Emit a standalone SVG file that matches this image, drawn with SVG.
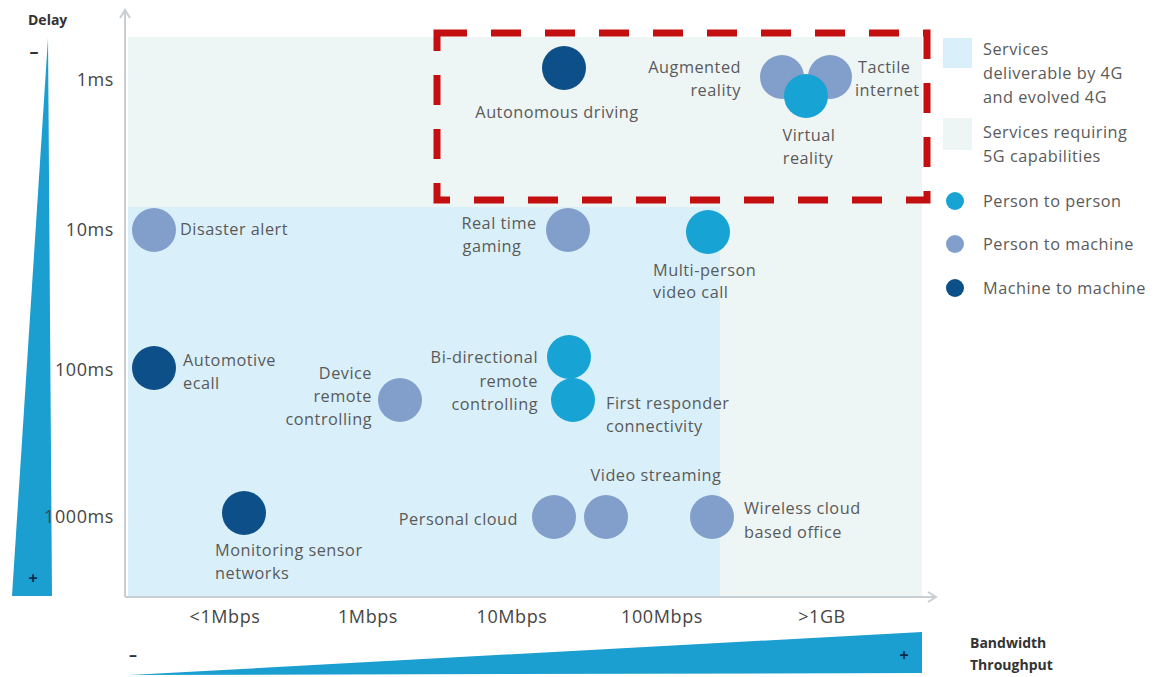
<svg xmlns="http://www.w3.org/2000/svg" width="1161" height="677" viewBox="0 0 1161 677">
<defs>
<style>
text{font-family:"Open Sans","Liberation Sans",sans-serif;font-size:16.3px;letter-spacing:0.5px;fill:#5a5a5a;}
.ax{font-size:18px;letter-spacing:0.6px;fill:#454545;}
.b{font-weight:bold;font-size:14px;letter-spacing:0;fill:#333;}
.p2p{fill:#17a3d3;}
.p2m{fill:#829fcb;}
.m2m{fill:#0d4f88;}
.e{text-anchor:end;}
.m{text-anchor:middle;}
</style>
</defs>
<rect width="1161" height="677" fill="#fff"/>
<g id="regions">
<rect x="128" y="37" width="794" height="559" fill="#eef5f5"/>
<rect x="128" y="207" width="592" height="389" fill="#d9f0fa"/>
</g>
<g id="axes" stroke="#c9ced2" stroke-width="2" fill="none">
<line x1="125" y1="10" x2="125" y2="597"/>
<polyline points="120,18 125,10 130,18"/>
<line x1="125" y1="597" x2="935" y2="597"/>
<polyline points="928,592 936,597 928,602"/>
</g>
<g id="delay-wedge">
<polygon points="48,38 52,596 12,596" fill="#1a9fd0"/>
<text x="28" y="25" class="b">Delay</text>
<text x="34" y="58" class="b m" style="font-size:18px">–</text>
<text x="33" y="584" class="b m" style="font-size:16px;fill:#0a2a50">+</text>
</g>
<g id="bandwidth-wedge">
<polygon points="130,675 922,632 922,673" fill="#1a9fd0"/>
<text x="133" y="660" class="b m" style="font-size:16px">–</text>
<text x="904" y="661" class="b m" style="font-size:16px;fill:#0a2a50">+</text>
<text x="970" y="648" class="b">Bandwidth</text>
<text x="970" y="670" class="b">Throughput</text>
</g>
<g id="y-labels">
<text x="114" y="86" class="ax e">1ms</text>
<text x="114" y="236" class="ax e">10ms</text>
<text x="114" y="376" class="ax e">100ms</text>
<text x="114" y="523" class="ax e">1000ms</text>
</g>
<g id="x-labels">
<text x="225" y="623" class="ax m">&lt;1Mbps</text>
<text x="368" y="623" class="ax m">1Mbps</text>
<text x="512" y="623" class="ax m">10Mbps</text>
<text x="662" y="623" class="ax m">100Mbps</text>
<text x="822" y="623" class="ax m">&gt;1GB</text>
</g>
<g id="highlight">
<rect x="437" y="33" width="490" height="167" fill="none" stroke="#c40f10" stroke-width="7" stroke-dasharray="30,24"/>
</g>
<g id="autonomous-driving">
<circle cx="564" cy="68" r="22" class="m2m"/>
<text x="557" y="118" class="m">Autonomous driving</text>
</g>
<g id="augmented-reality">
<circle cx="782" cy="77" r="22" class="p2m"/>
<text x="741" y="73" class="e">Augmented</text>
<text x="741" y="96" class="e">reality</text>
</g>
<g id="tactile-internet">
<circle cx="830" cy="77" r="22" class="p2m"/>
<text x="858" y="73">Tactile</text>
<text x="855" y="96">internet</text>
</g>
<g id="virtual-reality">
<circle cx="806" cy="96" r="22" class="p2p"/>
<text x="809" y="141" class="m">Virtual</text>
<text x="808" y="164" class="m">reality</text>
</g>
<g id="disaster-alert">
<circle cx="154" cy="230" r="22" class="p2m"/>
<text x="180" y="235">Disaster alert</text>
</g>
<g id="real-time-gaming">
<circle cx="568" cy="230" r="22" class="p2m"/>
<text x="499" y="229" class="m">Real time</text>
<text x="492" y="252" class="m">gaming</text>
</g>
<g id="multi-person-video-call">
<circle cx="708" cy="232" r="22" class="p2p"/>
<text x="653" y="276">Multi-person</text>
<text x="653" y="298">video call</text>
</g>
<g id="automotive-ecall">
<circle cx="154" cy="368" r="22" class="m2m"/>
<text x="183" y="366">Automotive</text>
<text x="183" y="389">ecall</text>
</g>
<g id="device-remote-controlling">
<circle cx="400" cy="400" r="22" class="p2m"/>
<text x="372" y="379" class="e">Device</text>
<text x="372" y="402" class="e">remote</text>
<text x="372" y="425" class="e">controlling</text>
</g>
<g id="bi-directional-remote-controlling">
<circle cx="569" cy="357" r="22" class="p2p"/>
<text x="538" y="363" class="e">Bi-directional</text>
<text x="538" y="387" class="e">remote</text>
<text x="538" y="410" class="e">controlling</text>
</g>
<g id="first-responder-connectivity">
<circle cx="573" cy="400" r="22" class="p2p"/>
<text x="606" y="409">First responder</text>
<text x="606" y="432">connectivity</text>
</g>
<g id="monitoring-sensor-networks">
<circle cx="244" cy="513" r="22" class="m2m"/>
<text x="215" y="556">Monitoring sensor</text>
<text x="215" y="579">networks</text>
</g>
<g id="personal-cloud">
<circle cx="554" cy="517" r="22" class="p2m"/>
<text x="518" y="525" class="e">Personal cloud</text>
</g>
<g id="video-streaming">
<circle cx="606" cy="517" r="22" class="p2m"/>
<text x="656" y="481" class="m">Video streaming</text>
</g>
<g id="wireless-cloud-based-office">
<circle cx="712" cy="517" r="22" class="p2m"/>
<text x="744" y="514">Wireless cloud</text>
<text x="744" y="538">based office</text>
</g>
<g id="legend">
<rect x="943" y="38" width="29" height="30" fill="#d9f0fa"/>
<rect x="943" y="118" width="29" height="32" fill="#eef5f5"/>
<text x="983" y="55">Services</text>
<text x="983" y="79">deliverable by 4G</text>
<text x="983" y="103">and evolved 4G</text>
<text x="983" y="138">Services requiring</text>
<text x="983" y="162">5G capabilities</text>
<circle cx="955" cy="201" r="9" class="p2p"/>
<text x="983" y="207">Person to person</text>
<circle cx="955" cy="244" r="9" class="p2m"/>
<text x="983" y="250">Person to machine</text>
<circle cx="955" cy="288" r="9" class="m2m"/>
<text x="983" y="294">Machine to machine</text>
</g>
</svg>
